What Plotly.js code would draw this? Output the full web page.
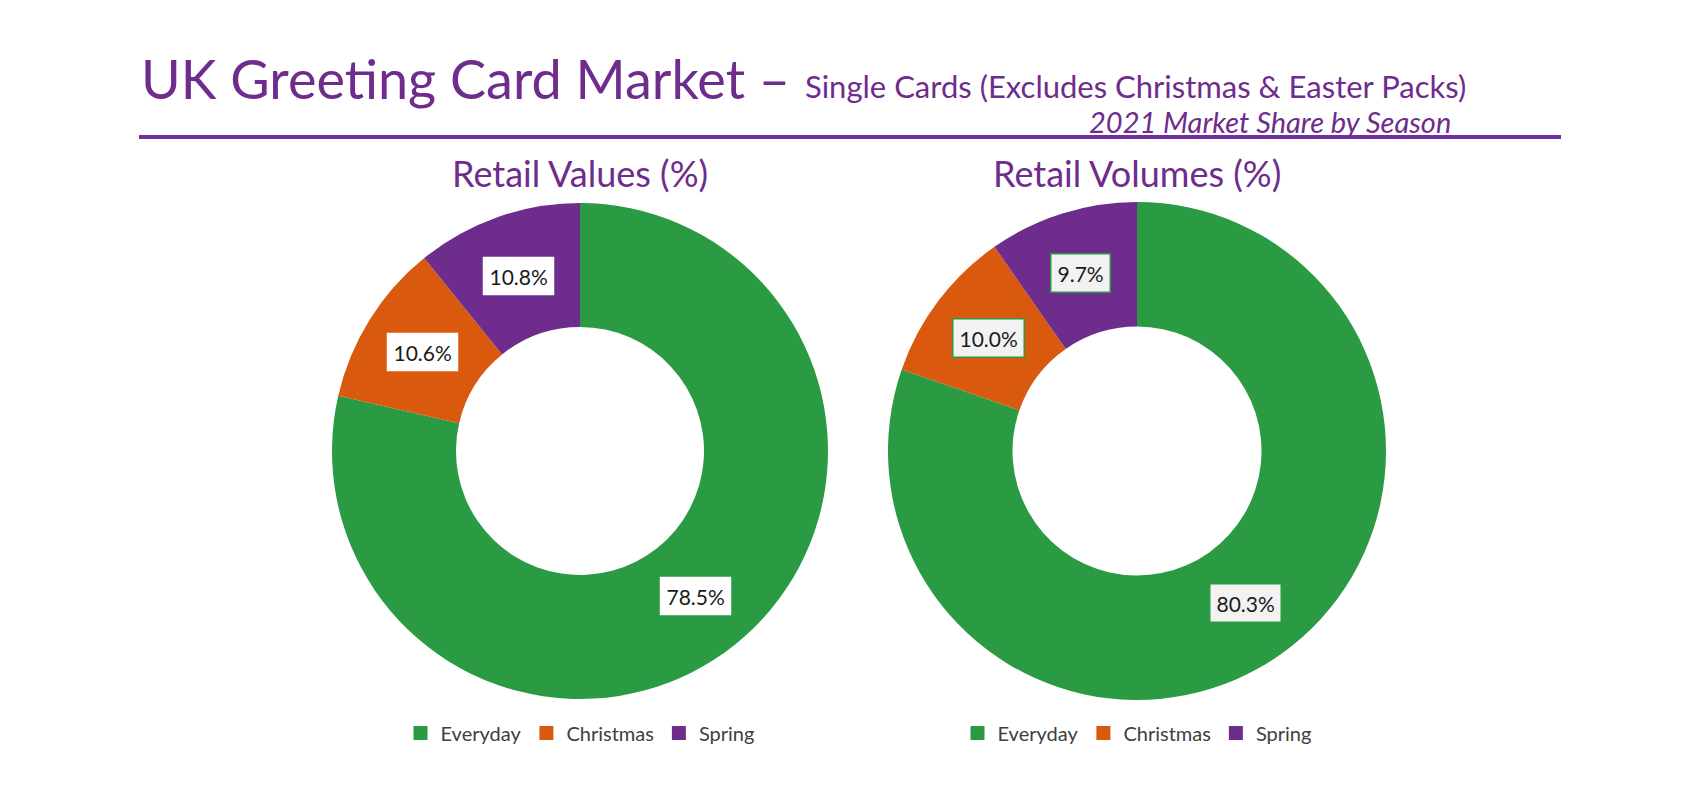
<!DOCTYPE html>
<html>
<head>
<meta charset="utf-8">
<script src="https://cdn.plot.ly/plotly-3.0.1.min.js"></script>
<style>html,body{margin:0;padding:0;background:#fff;}#chart{width:1700px;height:800px;}</style>
</head>
<body>
<div id="chart"></div>
<script>
// ---- data ----
const seasons = ["Everyday", "Christmas", "Spring"];
const retailValues = [78.5, 10.6, 10.8];
const retailVolumes = [80.3, 10.0, 9.7];
const chartTitles = ["Retail Values (%)", "Retail Volumes (%)"];
const seasonColors = ["#2A9A43", "#D9590E", "#6E2D8C"];

const W = 1700, H = 800;
const FONT = "Lato, 'Noto Sans', sans-serif";
const PURPLE = "#6E2C8C";

// pie geometry (pixels)
const pies = [
  {cx: 580, cy: 451, R: 248, vals: retailValues, legend: "legend", boxBg: "#FFFFFF", boxBorder: "rgba(0,0,0,0)"},
  {cx: 1137, cy: 451, R: 249, vals: retailVolumes, legend: "legend2", boxBg: "#F2F2F2", boxBorder: "#2A9A43"}
];

const traces = [];
const annotations = [];

pies.forEach((p, i) => {
  traces.push({
    type: "pie",
    values: p.vals,
    labels: seasons,
    marker: {colors: seasonColors, line: {width: 0}},
    hole: 0.5,
    sort: false,
    direction: "clockwise",
    rotation: 0,
    textinfo: "none",
    hoverinfo: "label+value",
    domain: {
      x: [(p.cx - p.R) / W, (p.cx + p.R) / W],
      y: [1 - (p.cy + p.R) / H, 1 - (p.cy - p.R) / H]
    },
    showlegend: false
  });
  // legend entries for this pie (one per season)
  seasons.forEach((s, k) => {
    traces.push({
      type: "scatter",
      mode: "markers",
      x: [null], y: [null],
      name: s,
      marker: {symbol: "square", size: 14, color: seasonColors[k]},
      legend: p.legend,
      showlegend: true,
      hoverinfo: "skip"
    });
  });
  // data labels at the middle of each ring segment
  const total = p.vals.reduce((a, b) => a + b, 0);
  let cum = 0;
  p.vals.forEach((v, k) => {
    const mid = (cum + v / 2) / total * 2 * Math.PI;
    cum += v;
    const r = p.R * 0.75;
    const x = p.cx + r * Math.sin(mid);
    const y = p.cy - r * Math.cos(mid);
    annotations.push({
      xref: "paper", yref: "paper",
      x: x / W, y: 1 - y / H,
      xanchor: "center", yanchor: "middle",
      text: v.toFixed(1) + "%",
      showarrow: false,
      font: {family: FONT, size: 21, color: "#1A1A1A"},
      bgcolor: p.boxBg,
      bordercolor: p.boxBorder,
      borderwidth: 1.5,
      borderpad: 6
    });
  });
  annotations.push({
    xref: "paper", yref: "paper",
    x: p.cx / W, y: 1 - 173 / H,
    xanchor: "center", yanchor: "middle",
    text: chartTitles[i],
    showarrow: false,
    font: {family: FONT, size: 36, color: PURPLE}
  });
});

// main title
annotations.push({
  xref: "paper", yref: "paper",
  x: 139 / W, y: 1 - 113 / H,
  xanchor: "left", yanchor: "bottom",
  text: "UK Greeting Card Market –",
  showarrow: false,
  font: {family: FONT, size: 54, color: PURPLE}
});
// subtitle on the same baseline
annotations.push({
  xref: "paper", yref: "paper",
  x: 803 / W, y: 1 - 107 / H,
  xanchor: "left", yanchor: "bottom",
  text: "Single Cards (Excludes Christmas &amp; Easter Packs)",
  showarrow: false,
  font: {family: FONT, size: 31, color: PURPLE}
});
annotations.push({
  xref: "paper", yref: "paper",
  x: 1453 / W, y: 1 - 121 / H,
  xanchor: "right", yanchor: "middle",
  text: "<i>2021 Market Share by Season</i>",
  showarrow: false,
  font: {family: FONT, size: 29, color: PURPLE}
});

const legendBase = {
  orientation: "h",
  xanchor: "center", yanchor: "middle",
  y: 1 - 733 / H,
  font: {family: FONT, size: 20, color: "#404040"},
  itemwidth: 30,
  bgcolor: "rgba(0,0,0,0)"
};

const layout = {
  width: W, height: H,
  margin: {l: 0, r: 0, t: 0, b: 0},
  paper_bgcolor: "#FFFFFF",
  plot_bgcolor: "#FFFFFF",
  font: {family: FONT},
  showlegend: true,
  xaxis: {visible: false, range: [0, 1]},
  yaxis: {visible: false, range: [0, 1]},
  legend: Object.assign({}, legendBase, {x: 580 / W}),
  legend2: Object.assign({}, legendBase, {x: 1137 / W}),
  annotations: annotations,
  shapes: [{
    type: "line", xref: "paper", yref: "paper",
    x0: 139 / W, x1: 1561 / W, y0: 1 - 137 / H, y1: 1 - 137 / H,
    line: {color: "#7030A0", width: 4}
  }]
};

Plotly.newPlot("chart", traces, layout, {displayModeBar: false, staticPlot: true});
</script>
</body>
</html>
